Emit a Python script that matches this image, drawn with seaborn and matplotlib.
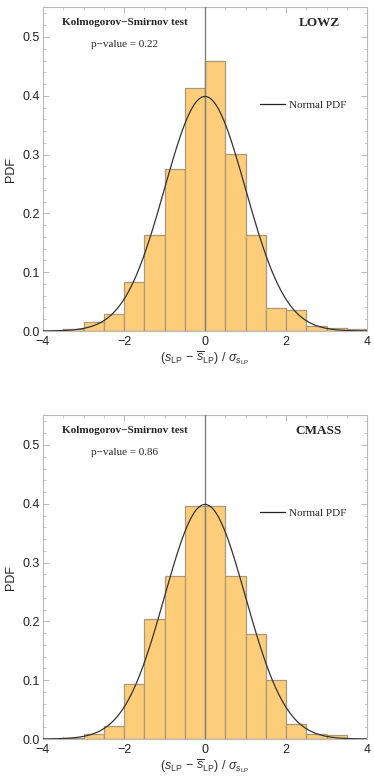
import numpy as np
import pandas as pd
import seaborn as sns
import matplotlib
matplotlib.use("Agg")
import matplotlib.pyplot as plt
from matplotlib.ticker import MultipleLocator
from matplotlib.lines import Line2D

# ---- data ----
bin_edges = [-4.0, -3.5, -3.0, -2.5, -2.0, -1.5, -1.0, -0.5, 0.0, 0.5, 1.0, 1.5, 2.0, 2.5, 3.0, 3.5, 4.0]
lowz_pdf = [0.0, 0.003, 0.016, 0.029, 0.083, 0.164, 0.275, 0.414, 0.460, 0.301, 0.164, 0.039, 0.036, 0.0085, 0.005, 0.003]
cmass_pdf = [0.0, 0.001, 0.0085, 0.0226, 0.093, 0.2036, 0.278, 0.396, 0.396, 0.278, 0.178, 0.100, 0.025, 0.0085, 0.0063, 0.0]
panel_names = ["LOWZ", "CMASS"]
p_values = ["0.22", "0.86"]
xticks = [-4, -2, 0, 2, 4]
yticks = [0.0, 0.1, 0.2, 0.3, 0.4, 0.5]

sns.set_theme(style="white")
plt.rcParams['font.family'] = ['Liberation Sans', 'DejaVu Sans']
plt.rcParams['mathtext.fontset'] = 'custom'
plt.rcParams['mathtext.rm'] = 'Liberation Sans'
plt.rcParams['mathtext.it'] = 'Liberation Sans:italic'

W, H = 374, 778
fig = plt.figure(figsize=(W / 100, H / 100), dpi=100)

def ax_rect(left, right, top, bottom):
    return [left / W, 1 - bottom / H, (right - left) / W, (bottom - top) / H]

rects = [ax_rect(43, 367, 7, 331), ax_rect(43, 367, 415, 739)]
series = [lowz_pdf, cmass_pdf]

centers = [(a + b) / 2 for a, b in zip(bin_edges[:-1], bin_edges[1:])]
xs = np.linspace(-4, 4, 400)
pdf = np.exp(-xs ** 2 / 2) / np.sqrt(2 * np.pi)

serif = ['Liberation Serif', 'DejaVu Serif']
frame_col = '#b8b8b8'

for rect, vals, name, pv in zip(rects, series, panel_names, p_values):
    ax = fig.add_axes(rect)
    df = pd.DataFrame({"x": centers, "w": vals})
    sns.histplot(data=df, x="x", weights="w", bins=bin_edges, stat="count",
                 color="#fdcd7a", alpha=1.0, edgecolor="#ad9878", linewidth=0.9, ax=ax)
    ax.axvline(0, color="#808080", lw=1.0, zorder=3)
    sns.lineplot(x=xs, y=pdf, color="#333333", lw=0.9, ax=ax, zorder=4)
    ax.set_xlim(-4, 4)
    ax.set_ylim(0, 0.551)
    ax.set_xticks(xticks)
    ax.set_xticklabels([f"{t}".replace('-', '−') for t in xticks])
    ax.set_yticks(yticks)
    ax.set_yticklabels([f"{t:.1f}" for t in yticks])
    ax.xaxis.set_minor_locator(MultipleLocator(0.5))
    ax.yaxis.set_minor_locator(MultipleLocator(0.02))
    ax.tick_params(which='both', direction='in', top=True, right=True, bottom=True, left=True,
                   color=frame_col, labelsize=9, labelcolor='#222222')
    ax.tick_params(axis='x', pad=3.5)
    ax.tick_params(axis='y', pad=2)
    ax.tick_params(which='major', length=4, width=0.7)
    ax.tick_params(which='minor', length=2, width=0.5)
    for sp in ax.spines.values():
        sp.set_color(frame_col)
        sp.set_linewidth(0.8)
        sp.set_visible(True)
    ax.set_ylabel("PDF", fontsize=9, labelpad=4)
    ax.set_xlabel(r"$(s_{\mathrm{LP}}\,-\,\overline{s}_{\mathrm{LP}})\ /\ \sigma_{s_{\mathrm{LP}}}$",
                  fontsize=9, labelpad=1, color='#333333')

    ax.text(0.253, 0.952, "Kolmogorov−Smirnov test", transform=ax.transAxes, ha='center', va='center',
            fontsize=8, fontweight='bold', family=serif)
    ax.text(0.852, 0.952, name, transform=ax.transAxes, ha='center', va='center',
            fontsize=9.5, fontweight='bold', family=serif)
    ax.text(0.253, 0.883, f"p−value = {pv}", transform=ax.transAxes, ha='center', va='center',
            fontsize=8, family=serif)
    ax.legend(handles=[Line2D([0], [0], color='#222222', lw=0.9)], labels=["Normal PDF"],
              loc='center left', bbox_to_anchor=(0.64, 0.696), frameon=False,
              handlelength=2.2, handletextpad=0.4, prop={'family': serif, 'size': 8})

fig.savefig("out.png", dpi=100)
